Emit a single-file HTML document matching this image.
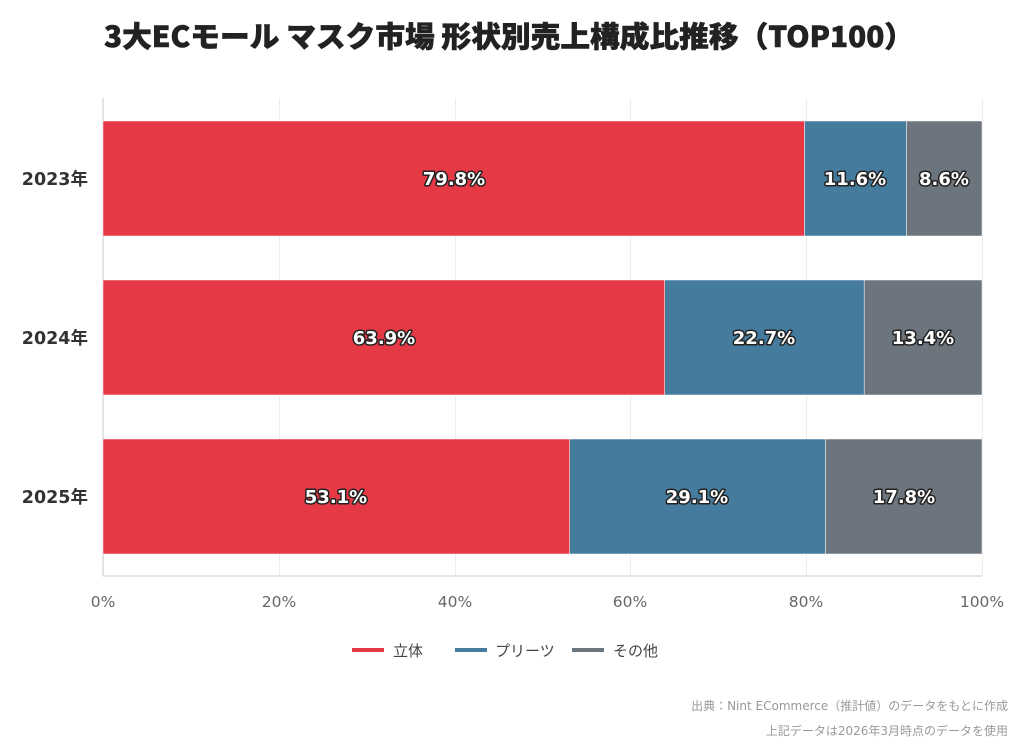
<!DOCTYPE html>
<html><head><meta charset="utf-8"><style>
body{margin:0;background:#fff;}
svg{display:block;font-family:"DejaVu Sans","Liberation Sans","Noto Sans CJK JP",sans-serif;}
.v{font-weight:bold;font-size:18px;fill:#fff;stroke:#222;stroke-width:3px;paint-order:stroke;stroke-linejoin:round;}
</style></head><body>
<svg width="1024" height="752" viewBox="0 0 1024 752">
<text x="509" y="47" text-anchor="middle" font-size="29" font-weight="900" fill="#222" stroke="#222" stroke-width="0.6" font-family="'Noto Sans CJK JP',sans-serif" textLength="810" lengthAdjust="spacingAndGlyphs">3大ECモール マスク市場 形状別売上構成比推移（TOP100）</text>
<g stroke="#ececec" stroke-width="1">
<line x1="103.5" y1="98" x2="103.5" y2="576"/><line x1="279.5" y1="98" x2="279.5" y2="576"/><line x1="455.5" y1="98" x2="455.5" y2="576"/><line x1="630.5" y1="98" x2="630.5" y2="576"/><line x1="806.5" y1="98" x2="806.5" y2="576"/><line x1="982.5" y1="98" x2="982.5" y2="576"/>
</g>
<line x1="103" y1="576" x2="982" y2="576" stroke="#ddd" stroke-width="1.5"/>
<line x1="103" y1="98" x2="103" y2="576" stroke="#ddd" stroke-width="1.5"/>
<g stroke="#fff" stroke-width="0.5">
<rect x="103" y="121" width="701.5" height="115" fill="#E63946"/>
<rect x="804.5" y="121" width="102" height="115" fill="#457B9D"/>
<rect x="906.5" y="121" width="75.5" height="115" fill="#6C757D"/>
<rect x="103" y="280" width="561.7" height="115" fill="#E63946"/>
<rect x="664.7" y="280" width="199.5" height="115" fill="#457B9D"/>
<rect x="864.2" y="280" width="117.8" height="115" fill="#6C757D"/>
<rect x="103" y="439" width="466.7" height="115" fill="#E63946"/>
<rect x="569.7" y="439" width="255.8" height="115" fill="#457B9D"/>
<rect x="825.5" y="439" width="156.5" height="115" fill="#6C757D"/>
</g>
<g class="v" text-anchor="middle">
<text x="454" y="185">79.8%</text><text x="855" y="185">11.6%</text><text x="944" y="185">8.6%</text>
<text x="384" y="344">63.9%</text><text x="764" y="344">22.7%</text><text x="923" y="344">13.4%</text>
<text x="336" y="503">53.1%</text><text x="697" y="503">29.1%</text><text x="904" y="503">17.8%</text>
</g>
<g font-size="17.5" font-weight="bold" fill="#333" text-anchor="end">
<text x="88" y="185">2023年</text><text x="88" y="344">2024年</text><text x="88" y="503">2025年</text>
</g>
<g font-size="15.5" fill="#666" text-anchor="middle">
<text x="103" y="607">0%</text><text x="279" y="607">20%</text><text x="455" y="607">40%</text><text x="630" y="607">60%</text><text x="806" y="607">80%</text><text x="982" y="607">100%</text>
</g>
<g font-size="15" fill="#444">
<line x1="352" y1="650" x2="384" y2="650" stroke="#E63946" stroke-width="4"/><text x="393" y="656">立体</text>
<line x1="455" y1="650" x2="487" y2="650" stroke="#457B9D" stroke-width="4"/><text x="495" y="656">プリーツ</text>
<line x1="572" y1="650" x2="604" y2="650" stroke="#6C757D" stroke-width="4"/><text x="613" y="656">その他</text>
</g>
<g font-size="12" fill="#999" text-anchor="end">
<text x="1008" y="710">出典：Nint ECommerce（推計値）のデータをもとに作成</text>
<text x="1008" y="735">上記データは2026年3月時点のデータを使用</text>
</g>
</svg>
</body></html>
